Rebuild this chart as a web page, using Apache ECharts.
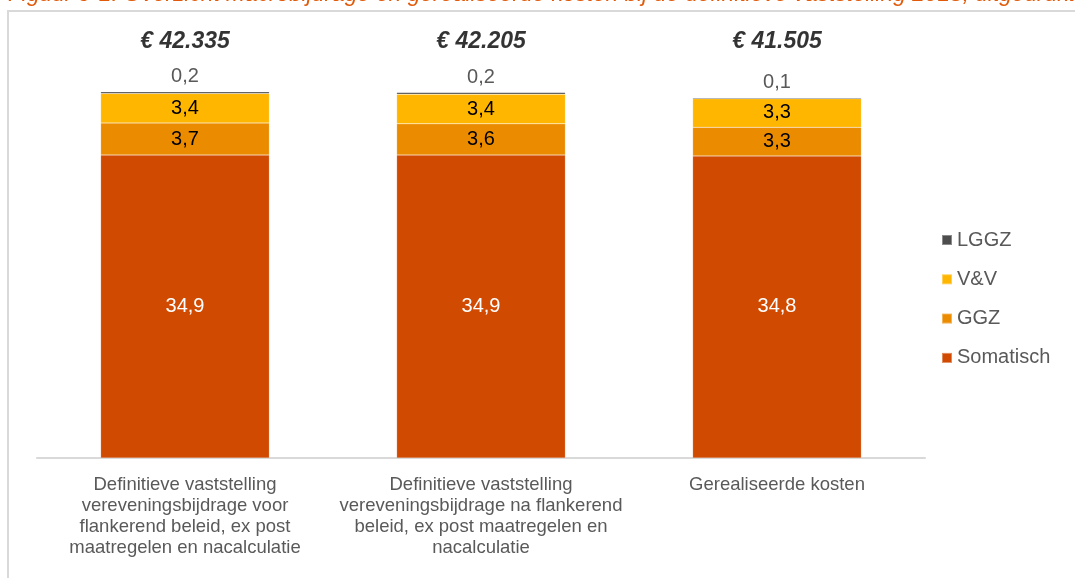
<!DOCTYPE html>
<html>
<head>
<meta charset="utf-8">
<script src="https://cdn.jsdelivr.net/npm/echarts@6/dist/echarts.min.js"></script>
<style>
  html, body { margin: 0; padding: 0; background: #fff; }
  #chart { width: 1075px; height: 578px; }
</style>
</head>
<body>
<div id="chart"></div>
<script>
// categorieen (x-as)
var categories = [
	'Definitieve vaststelling\nvereveningsbijdrage voor\nflankerend beleid, ex post\nmaatregelen en nacalculatie',
	'Definitieve vaststelling\nvereveningsbijdrage na flankerend\nbeleid, ex post maatregelen en\nnacalculatie',
	'Gerealiseerde kosten'
];
// waarden per onderdeel (mld euro)
var somatisch = [34.9, 34.9, 34.8];
var ggz = [3.7, 3.6, 3.3];
var vv = [3.4, 3.4, 3.3];
var lggz = [0.2, 0.2, 0.1];
// totalen boven de staven
var totals = ['€ 42.335', '€ 42.205', '€ 41.505'];
var totalLevel = [47.95, 47.95, 47.95];

var colors = {
	somatisch: '#D04A02',
	ggz: '#EB8C00',
	vv: '#FFB600',
	lggz: '#4D4D4D'
};

function fmt(v){
	return v.toFixed(1).replace('.', ',');
}

var chart = {
	init: function(){
		var myChart = echarts.init(document.getElementById('chart'));
		myChart.setOption(chart.getOption());
	},
	barSeries: function(name, data, color, labelColor, pos){
		return {
			name: name,
			type: 'bar',
			stack: 'total',
			barWidth: '57%',
			data: data,
			itemStyle: { color: color, borderColor: 'rgba(255,255,255,0.35)', borderWidth: 0.5 },
			label: {
				show: true,
				position: pos,
				distance: 5,
				color: labelColor,
				fontFamily: 'Liberation Sans, Arial, sans-serif',
				fontSize: 20,
				formatter: function(p){ return fmt(p.value); }
			},
			emphasis: { disabled: true }
		};
	},
	getOption: function(){
		var font = 'Liberation Sans, Arial, sans-serif';
		return {
			animation: false,
			backgroundColor: '#fff',
			graphic: [
				{
					type: 'rect',
					shape: { x: 8, y: 11, width: 1200, height: 700 },
					style: { fill: 'none', stroke: '#d9d9d9', lineWidth: 2 },
					silent: true
				},
				{
					type: 'text',
					left: 8,
					top: -17,
					style: {
						text: 'Figuur 9-1: Overzicht macrobijdrage en gerealiseerde kosten bij de definitieve vaststelling 2018, uitgedrukt in miljarden euro',
						fill: '#E05A0A',
						font: 'italic 22.7px Liberation Sans, Arial, sans-serif'
					},
					silent: true
				}
			],
			legend: {
				orient: 'vertical',
				left: 936,
				top: 225,
				itemWidth: 10,
				itemHeight: 10,
				itemGap: 19.3,
				icon: 'rect',
				data: ['LGGZ', 'V&V', 'GGZ', 'Somatisch'],
				textStyle: { color: '#595959', fontSize: 20, lineHeight: 20, fontFamily: font }
			},
			grid: { left: 37, right: 150, top: 24, bottom: 120 },
			xAxis: {
				type: 'category',
				data: categories,
				axisTick: { show: false },
				axisLine: { lineStyle: { color: '#d9d9d9', width: 2 } },
				axisLabel: {
					color: '#595959',
					fontSize: 18.5,
					lineHeight: 21,
					fontFamily: font,
					margin: 16,
					interval: 0
				}
			},
			yAxis: {
				type: 'value',
				min: 0,
				max: 50,
				show: false,
				splitLine: { show: false }
			},
			series: [
				chart.barSeries('Somatisch', somatisch, colors.somatisch, '#ffffff', 'inside'),
				chart.barSeries('GGZ', ggz, colors.ggz, '#000000', 'inside'),
				chart.barSeries('V&V', vv, colors.vv, '#000000', 'inside'),
				chart.barSeries('LGGZ', lggz, colors.lggz, '#595959', 'top'),
				{
					name: 'totaal',
					type: 'scatter',
					symbolSize: 0,
					data: totalLevel,
					silent: true,
					label: {
						show: true,
						position: 'inside',
						color: '#000',
						fontSize: 23,
						fontWeight: 'bold',
						fontStyle: 'italic',
						fontFamily: font,
						formatter: function(p){ return totals[p.dataIndex]; }
					}
				}
			]
		};
	}
};

chart.init();
</script>
</body>
</html>
